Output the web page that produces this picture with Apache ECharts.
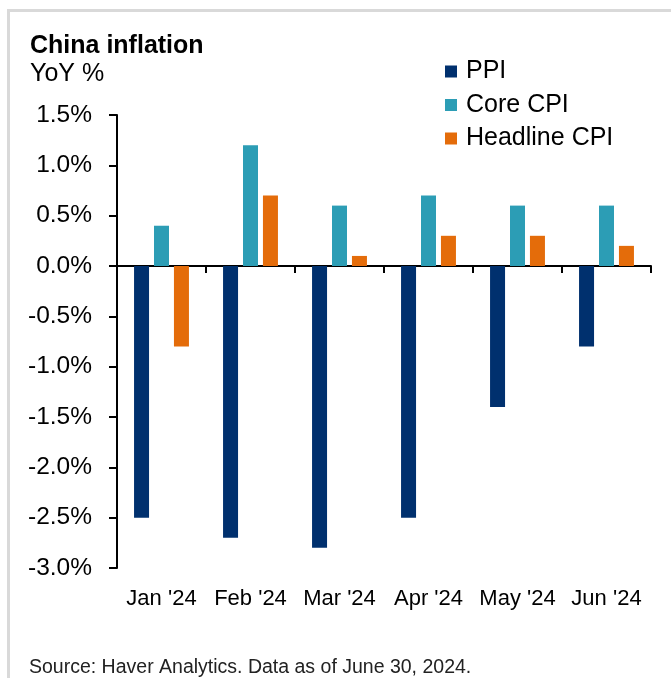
<!DOCTYPE html>
<html>
<head>
<meta charset="utf-8">
<script src="https://cdn.jsdelivr.net/npm/echarts@6/dist/echarts.min.js"></script>
<style>
  html, body { margin: 0; padding: 0; background: #fff; }
  #chart { width: 671px; height: 678px; }
</style>
</head>
<body>
<div id="chart"></div>
<script>
// Monthly year-over-year inflation readings, %
const months = ["Jan '24", "Feb '24", "Mar '24", "Apr '24", "May '24", "Jun '24"];
const ppi = [-2.5, -2.7, -2.8, -2.5, -1.4, -0.8];
const coreCpi = [0.4, 1.2, 0.6, 0.7, 0.6, 0.6];
const headlineCpi = [-0.8, 0.7, 0.1, 0.3, 0.3, 0.2];

const FONT = 'Liberation Sans, Arial, sans-serif';
const chart = echarts.init(document.getElementById('chart'), null, { renderer: 'canvas' });

const barBase = { type: 'bar', barWidth: 15, barGap: '33%', xAxisIndex: 0 };

chart.setOption({
  animation: false,
  backgroundColor: '#ffffff',
  textStyle: { fontFamily: FONT },
  title: [
    { text: 'China inflation', left: 30, top: 34, padding: 0,
      textStyle: { fontFamily: FONT, fontSize: 25, fontWeight: 'bold', color: '#000' } },
    { text: 'YoY %', left: 30, top: 62, padding: 0,
      textStyle: { fontFamily: FONT, fontSize: 25, fontWeight: 'normal', color: '#000' } },
    { text: 'Source: Haver Analytics. Data as of June 30, 2024.', left: 29, top: 658, padding: 0,
      textStyle: { fontFamily: FONT, fontSize: 19.5, fontWeight: 'normal', color: '#222' } }
  ],
  legend: {
    orient: 'vertical', left: 445, top: 59, padding: 0,
    itemWidth: 12, itemHeight: 12, itemGap: 8.5,
    icon: 'rect',
    textStyle: { fontFamily: FONT, fontSize: 25, color: '#000', lineHeight: 25, padding: [0, 0, 0, 4] },
    data: ['PPI', 'Core CPI', 'Headline CPI']
  },
  grid: { left: 117, right: 20, top: 115, bottom: 110, containLabel: false },
  xAxis: [
    {
      type: 'category', data: months,
      axisLine: { onZero: true, lineStyle: { color: '#000', width: 2 } },
      axisTick: { show: true, alignWithLabel: false, length: 7, lineStyle: { color: '#000', width: 2 } },
      axisLabel: { show: false },
      splitLine: { show: false }
    },
    {
      type: 'category', data: months, position: 'bottom',
      axisLine: { show: false, onZero: false },
      axisTick: { show: false },
      axisLabel: { show: true, margin: 20, fontFamily: FONT, fontSize: 22, color: '#000', interval: 0 },
      splitLine: { show: false }
    }
  ],
  yAxis: {
    type: 'value', min: -3, max: 1.5, interval: 0.5,
    axisLine: { show: true, lineStyle: { color: '#000', width: 2 } },
    axisTick: { show: true, length: 8, lineStyle: { color: '#000', width: 2 } },
    axisLabel: { margin: 25, fontFamily: FONT, fontSize: 24.5, color: '#000',
      formatter: v => v.toFixed(1) + '%' },
    splitLine: { show: false }
  },
  series: [
    Object.assign({ name: 'PPI', data: ppi, itemStyle: { color: '#00306e' } }, barBase),
    Object.assign({ name: 'Core CPI', data: coreCpi, itemStyle: { color: '#2c9db5' } }, barBase),
    Object.assign({ name: 'Headline CPI', data: headlineCpi, itemStyle: { color: '#e46c0a' } }, barBase)
  ],
  graphic: [
    { type: 'line', shape: { x1: 7, y1: 10.5, x2: 671, y2: 10.5 }, style: { stroke: '#d9d9d9', lineWidth: 3 }, silent: true },
    { type: 'line', shape: { x1: 8.5, y1: 9, x2: 8.5, y2: 678 }, style: { stroke: '#d9d9d9', lineWidth: 3 }, silent: true }
  ]
});
</script>
</body>
</html>
